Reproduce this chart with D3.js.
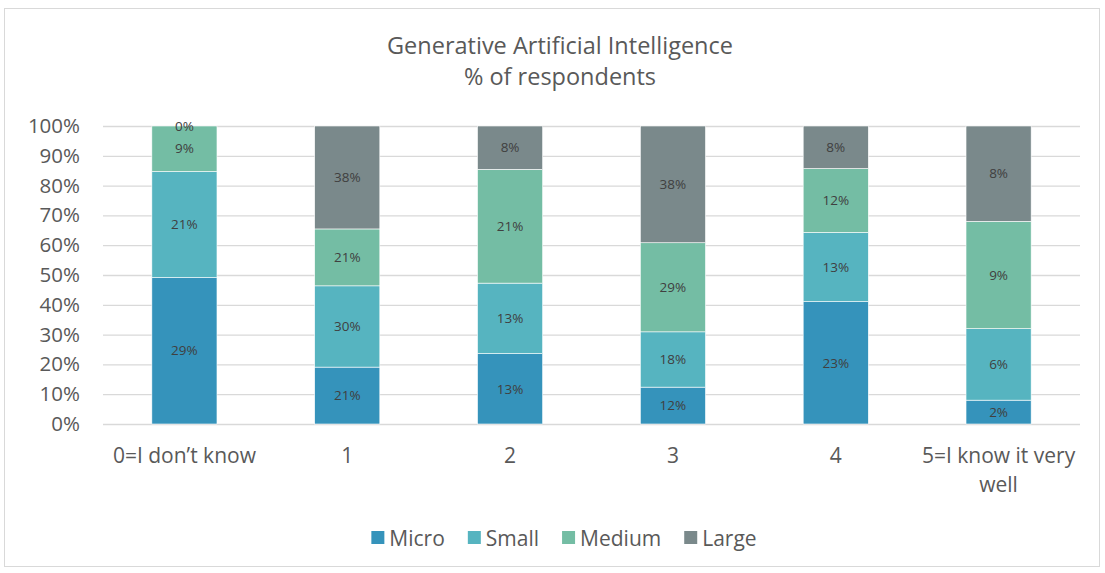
<!DOCTYPE html>
<html><head><meta charset="utf-8">
<script src="https://cdn.jsdelivr.net/npm/d3@7"></script>
<style>body{margin:0;background:#fff;}svg{display:block;font-family:"Open Sans",sans-serif;}</style>
</head><body><svg id="c" width="1105" height="573"></svg>
<script>
const categories = ["0=I don’t know", "1", "2", "3", "4", "5=I know it very well"];
const seriesNames = ["Micro", "Small", "Medium", "Large"];
const micro  = [29, 21, 13, 12, 23, 2];
const small  = [21, 30, 13, 18, 13, 6];
const medium = [9, 21, 21, 29, 12, 9];
const large  = [0, 38, 8, 38, 8, 8];
const colors = ["#3593BB", "#56B4C0", "#74BDA4", "#7A898B"];
const yTicks = [0, 0.1, 0.2, 0.3, 0.4, 0.5, 0.6, 0.7, 0.8, 0.9, 1];

const rows = categories.map((c, i) => ({cat: c, Micro: micro[i], Small: small[i], Medium: medium[i], Large: large[i]}));
const stack = d3.stack().keys(seriesNames).offset(d3.stackOffsetExpand)(rows);

const svg = d3.select("#c");
svg.append("rect").attr("x", 4.5).attr("y", 8.5).attr("width", 1095).attr("height", 558)
  .attr("fill", "#fff").attr("stroke", "#D9D9D9");

const x = d3.scaleBand().domain(categories).range([103, 1080]).paddingInner(0.6).paddingOuter(0.3);
const y = d3.scaleLinear().domain([0, 1]).range([424, 126]);

svg.append("g").selectAll("line").data(yTicks).join("line")
  .attr("x1", 103).attr("x2", 1080).attr("y1", d => y(d) + 0.5).attr("y2", d => y(d) + 0.5)
  .attr("stroke", "#D9D9D9").attr("stroke-width", 1.3);

const yAxis = svg.append("g").attr("transform", "translate(80,0)")
  .call(d3.axisLeft(y).tickValues(yTicks).tickFormat(d3.format(".0%")).tickSize(0).tickPadding(0));
yAxis.select(".domain").remove();
yAxis.selectAll("text").attr("font-size", 20.5).attr("fill", "#595959").attr("font-family", "'Open Sans', sans-serif");

const layers = svg.append("g").selectAll("g").data(stack).join("g").attr("fill", (d, i) => colors[i]);
layers.selectAll("rect").data(d => d).join("rect")
  .attr("x", d => x(d.data.cat)).attr("width", x.bandwidth())
  .attr("y", d => y(d[1])).attr("height", d => y(d[0]) - y(d[1]))
  .attr("stroke", "#fff").attr("stroke-width", 0.6);

layers.each(function(s) {
  d3.select(this).selectAll("text").data(s).join("text")
    .attr("x", d => x(d.data.cat) + x.bandwidth() / 2)
    .attr("y", d => (y(d[0]) + y(d[1])) / 2)
    .attr("dy", "0.35em").attr("text-anchor", "middle")
    .attr("font-size", 13.5).attr("fill", "#404040")
    .text(d => d.data[s.key] + "%");
});

const xl = svg.append("g");
categories.forEach(c => {
  const cx = x(c) + x.bandwidth() / 2;
  const lines = c === "5=I know it very well" ? ["5=I know it very", "well"] : [c];
  lines.forEach((ln, j) => {
    xl.append("text").attr("x", cx).attr("y", 463 + j * 29).attr("text-anchor", "middle")
      .attr("font-size", 21).attr("fill", "#595959").text(ln);
  });
});

const title = svg.append("g").attr("fill", "#595959").attr("font-size", 23.5).attr("text-anchor", "middle");
title.append("text").attr("x", 560).attr("y", 54).text("Generative Artificial Intelligence");
title.append("text").attr("x", 560).attr("y", 85).text("% of respondents");

const leg = svg.append("g");
const items = seriesNames.map((n, i) => {
  const g = leg.append("g");
  g.append("rect").attr("x", 0).attr("y", 531).attr("width", 13).attr("height", 13).attr("fill", colors[i]);
  const t = g.append("text").attr("x", 18).attr("y", 546).attr("font-size", 21).attr("fill", "#595959").text(n);
  return {g, w: 18 + t.node().getComputedTextLength()};
});
const gap = 23;
const total = d3.sum(items, d => d.w) + gap * (items.length - 1);
let cx = 564 - total / 2;
items.forEach(it => { it.g.attr("transform", `translate(${cx},0)`); cx += it.w + gap; });
</script></body></html>
